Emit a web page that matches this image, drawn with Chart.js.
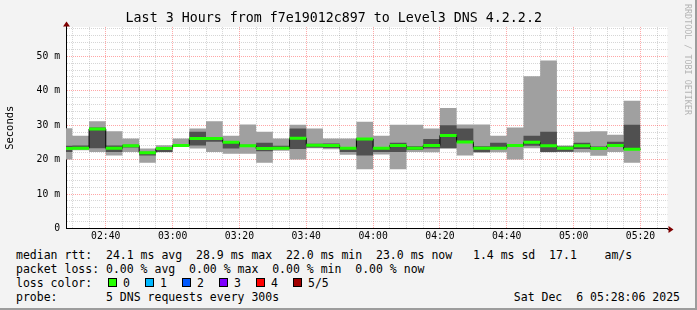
<!DOCTYPE html>
<html>
<head>
<meta charset="utf-8">
<script src="https://cdn.jsdelivr.net/npm/chart.js@4.4.1/dist/chart.umd.min.js"></script>
<style>
  html, body { margin: 0; padding: 0; background: #fff; }
  #frame { position: relative; width: 695px; height: 308px; background: #f3f3f3;
    border-right: 2px solid #9c9c9c; border-bottom: 2px solid #9c9c9c; overflow: hidden;
    font-family: "DejaVu Sans Mono", monospace; color: #000; }
  #chartBox { position: absolute; left: 0; top: 0; width: 695px; height: 246px; }
  .row { position: absolute; left: 16px; font-size: 11.5px; line-height: 14px; white-space: pre; }
  .box { position: absolute; width: 7px; height: 7px; border: 1px solid #000; }
  .lbl { position: absolute; font-size: 11.5px; line-height: 14px; white-space: pre; }
  #stamp { position: absolute; right: 15px; top: 290px; font-size: 11.5px; line-height: 14px; white-space: pre; }
  #mark { position: absolute; left: 683px; top: 4px; writing-mode: vertical-rl; font-size: 8.4px;
    color: #b4b4b4; white-space: pre; }
</style>
</head>
<body>
<div id="frame">
  <div id="chartBox"><canvas id="rtt"></canvas></div>
  <div class="row" style="top:248px">median rtt:  24.1 ms avg  28.9 ms max  22.0 ms min  23.0 ms now   1.4 ms sd  17.1    am/s</div>
  <div class="row" style="top:262px">packet loss: 0.00 % avg  0.00 % max  0.00 % min  0.00 % now</div>
  <div class="row" style="top:276px">loss color:</div>
  <div id="lossKey"></div>
  <div class="row" style="top:290px">probe:       5 DNS requests every 300s</div>
  <div id="stamp">Sat Dec  6 05:28:06 2025</div>
  <div id="mark">RRDTOOL / TOBI OETIKER</div>
</div>
<script>
// 5 minute probe slots (start time of each slot)
const slots = ['02:25','02:30','02:35','02:40','02:45','02:50','02:55','03:00','03:05','03:10',
  '03:15','03:20','03:25','03:30','03:35','03:40','03:45','03:50','03:55','04:00',
  '04:05','04:10','04:15','04:20','04:25','04:30','04:35','04:40','04:45','04:50',
  '04:55','05:00','05:05','05:10','05:15'];

// sorted ping times (ms) per slot: max, 4th, median, 2nd, min
const maxRtt = [29.1, 26.9, 31.1, 28.2, 26.1, 23.2, 24.2, 26.1, 29.0, 31.1,
  26.9, 30.2, 28.1, 26.1, 30.1, 29.0, 26.1, 26.1, 31.0, 26.9,
  30.1, 30.1, 29.0, 35.0, 30.2, 30.2, 26.9, 29.3, 44.2, 48.8,
  24.1, 28.1, 28.2, 27.2, 37.1];
const upperRtt = [24.0, 24.1, 29.3, 24.1, 24.3, 22.3, 23.5, 24.3, 28.1, 26.4,
  25.2, 24.3, 24.9, 24.0, 29.0, 24.6, 24.7, 23.5, 26.2, 23.6,
  24.9, 23.9, 26.0, 30.0, 29.0, 23.9, 24.9, 24.5, 26.9, 28.1,
  23.8, 24.9, 23.8, 25.2, 30.1];
const medianRtt = [23.2, 23.3, 28.9, 23.3, 24.0, 22.0, 23.2, 24.1, 26.1, 26.1,
  25.0, 24.0, 23.2, 23.3, 26.2, 24.2, 24.1, 23.3, 26.0, 23.3,
  24.1, 23.3, 24.1, 27.0, 25.1, 23.3, 23.3, 24.1, 25.0, 24.0,
  23.3, 24.0, 23.2, 24.1, 23.0];
const lowerRtt = [22.2, 23.2, 23.3, 22.2, 23.5, 21.2, 22.2, 23.9, 24.1, 25.2,
  23.2, 23.7, 22.4, 23.1, 23.1, 23.5, 23.4, 22.2, 21.2, 22.2,
  22.2, 22.8, 23.2, 23.3, 24.9, 22.2, 23.1, 23.7, 24.0, 22.2,
  22.3, 23.1, 22.8, 23.9, 22.9];
const minRtt = [20.0, 22.7, 22.2, 21.2, 22.2, 19.1, 22.1, 23.8, 23.2, 22.2,
  21.7, 21.7, 19.1, 22.6, 20.0, 23.3, 23.0, 21.4, 17.2, 21.5,
  17.2, 22.2, 22.1, 23.2, 21.2, 22.0, 22.1, 20.0, 23.3, 22.1,
  22.2, 22.1, 21.1, 22.2, 19.1];

const xTickLabels = ['02:40','03:00','03:20','03:40','04:00','04:20','04:40','05:00','05:20'];
const yTickLabels = ['0','10 m','20 m','30 m','40 m','50 m'];
const yTickValues = [0, 10, 20, 30, 40, 50];
const lossLabels = ['0','1','2','3','4','5/5'];
const lossColors = ['#26ff00','#00b8ff','#0059ff','#7e00ff','#ff0000','#a10000'];

const fromTime = '02:28:06', toTime = '05:28:06';
const stepMin = 5;

function toMin(s){
	let p = s.split(':').map(Number);
	return p[0]*60 + p[1] + (p[2] || 0)/60;
}

let starts = slots.map(toMin);

function stepSeries(vals){
	let pts = vals.map((v, i) => ({x: starts[i], y: v}));
	pts.push({x: starts[starts.length-1] + stepMin, y: vals[vals.length-1]});
	return pts;
}
function flatSegments(vals){
	let pts = [];
	vals.forEach((v, i) => {
		pts.push({x: starts[i], y: v}, {x: starts[i] + stepMin, y: v}, {x: starts[i] + stepMin, y: null});
	});
	return pts;
}

// loss colour key
let key = document.getElementById('lossKey');
lossLabels.forEach((l, i) => {
	let b = document.createElement('div');
	b.className = 'box';
	b.style.left = (108 + i*37) + 'px';
	b.style.top = '278px';
	b.style.background = lossColors[i];
	key.appendChild(b);
	let t = document.createElement('div');
	t.className = 'lbl';
	t.style.left = (123 + i*37) + 'px';
	t.style.top = '276px';
	t.textContent = l;
	key.appendChild(t);
});

const majorGrid = 'rgba(255,0,0,0.35)';
const minorGrid = 'rgba(90,90,90,0.25)';
const mono = 'DejaVu Sans Mono';
let xMin = toMin(fromTime), xMax = toMin(toTime);
let xMajor = xTickLabels.map(toMin);

let plotBackground = {
	id: 'plotBackground',
	beforeDraw(chart){
		let a = chart.chartArea, c = chart.ctx;
		c.save();
		c.fillStyle = '#ffffff';
		c.fillRect(a.left, a.top, a.right - a.left, a.bottom - a.top);
		c.restore();
	}
};

let axisArrows = {
	id: 'axisArrows',
	afterDraw(chart){
		let a = chart.chartArea, c = chart.ctx;
		let x0 = Math.round(a.left) + 0.5, y0 = Math.round(a.bottom) + 0.5;
		c.save();
		c.strokeStyle = '#000';
		c.lineWidth = 1;
		c.beginPath();
		c.moveTo(x0, a.top); c.lineTo(x0, 24);
		c.moveTo(a.right, y0); c.lineTo(669, y0);
		c.stroke();
		c.fillStyle = '#7f0000';
		c.beginPath();
		c.moveTo(x0, 21.5); c.lineTo(x0 - 3.5, 26.5); c.lineTo(x0 + 3.5, 26.5); c.closePath();
		c.fill();
		c.beginPath();
		c.moveTo(673.5, y0); c.lineTo(668.5, y0 - 3.5); c.lineTo(668.5, y0 + 3.5); c.closePath();
		c.fill();
		c.restore();
	}
};

let smokeLine = {pointRadius: 0, borderWidth: 0, borderColor: 'rgba(0,0,0,0)', stepped: true, clip: 0};

let ctx = document.getElementById('rtt').getContext('2d');
let myChart = new Chart(ctx, {
	type: 'line',
	data: {
		datasets: [
			{label: 'median', data: flatSegments(medianRtt), borderColor: '#20ff00', borderWidth: 3,
				pointRadius: 0, spanGaps: false, clip: 0},
			{label: 'median step', data: stepSeries(medianRtt), borderColor: '#000000', borderWidth: 1,
				pointRadius: 0, stepped: true, clip: 0},
			Object.assign({label: 'upper', data: stepSeries(upperRtt), fill: '+1', backgroundColor: '#505050'}, smokeLine),
			Object.assign({label: 'lower', data: stepSeries(lowerRtt), fill: false}, smokeLine),
			Object.assign({label: 'max', data: stepSeries(maxRtt), fill: '+1', backgroundColor: '#a0a0a0'}, smokeLine),
			Object.assign({label: 'min', data: stepSeries(minRtt), fill: false}, smokeLine)
		]
	},
	options: {
		responsive: true,
		maintainAspectRatio: false,
		animation: false,
		events: [],
		layout: {padding: {left: 0, right: 27.5, top: 0, bottom: 0}},
		plugins: {
			legend: {display: false},
			tooltip: {enabled: false},
			title: {
				display: true,
				text: 'Last 3 Hours from f7e19012c897 to Level3 DNS 4.2.2.2',
				color: '#000',
				font: {family: mono, size: 13.3, weight: 'normal'},
				padding: {top: 11, bottom: 0}
			}
		},
		scales: {
			x: {
				type: 'linear',
				min: xMin,
				max: xMax,
				afterFit: s => { s.height = 17.5; },
				afterBuildTicks: s => {
					let t = [];
					for(let v = Math.ceil(xMin/stepMin)*stepMin; v <= xMax; v += stepMin){
						t.push({value: v});
					}
					s.ticks = t;
				},
				ticks: {
					autoSkip: false,
					maxRotation: 0,
					padding: 2,
					color: '#000',
					font: {family: mono, size: 9.75},
					callback: v => xMajor.includes(v) ? xTickLabels[xMajor.indexOf(v)] : ''
				},
				grid: {
					drawTicks: false,
					color: c => (c.tick && xMajor.includes(c.tick.value)) ? majorGrid : minorGrid
				},
				border: {display: true, color: '#000', width: 1, dash: [1, 1]}
			},
			y: {
				min: 0,
				max: 58.5,
				afterFit: s => { s.width = 66; },
				afterBuildTicks: s => {
					let t = [];
					for(let v = 0; v <= 58; v += 2){
						t.push({value: v});
					}
					s.ticks = t;
				},
				ticks: {
					autoSkip: false,
					padding: 6,
					color: '#000',
					font: {family: mono, size: 9.75},
					callback: v => yTickValues.includes(v) ? yTickLabels[yTickValues.indexOf(v)] : ''
				},
				grid: {
					drawTicks: false,
					color: c => (c.tick && yTickValues.includes(c.tick.value)) ? majorGrid : minorGrid
				},
				border: {display: true, color: '#000', width: 1, dash: [1, 1]},
				title: {
					display: true,
					text: 'Seconds',
					color: '#000',
					font: {family: mono, size: 10.5},
					padding: {top: 4, bottom: 0}
				}
			}
		}
	},
	plugins: [plotBackground, axisArrows]
});
</script>
</body>
</html>
